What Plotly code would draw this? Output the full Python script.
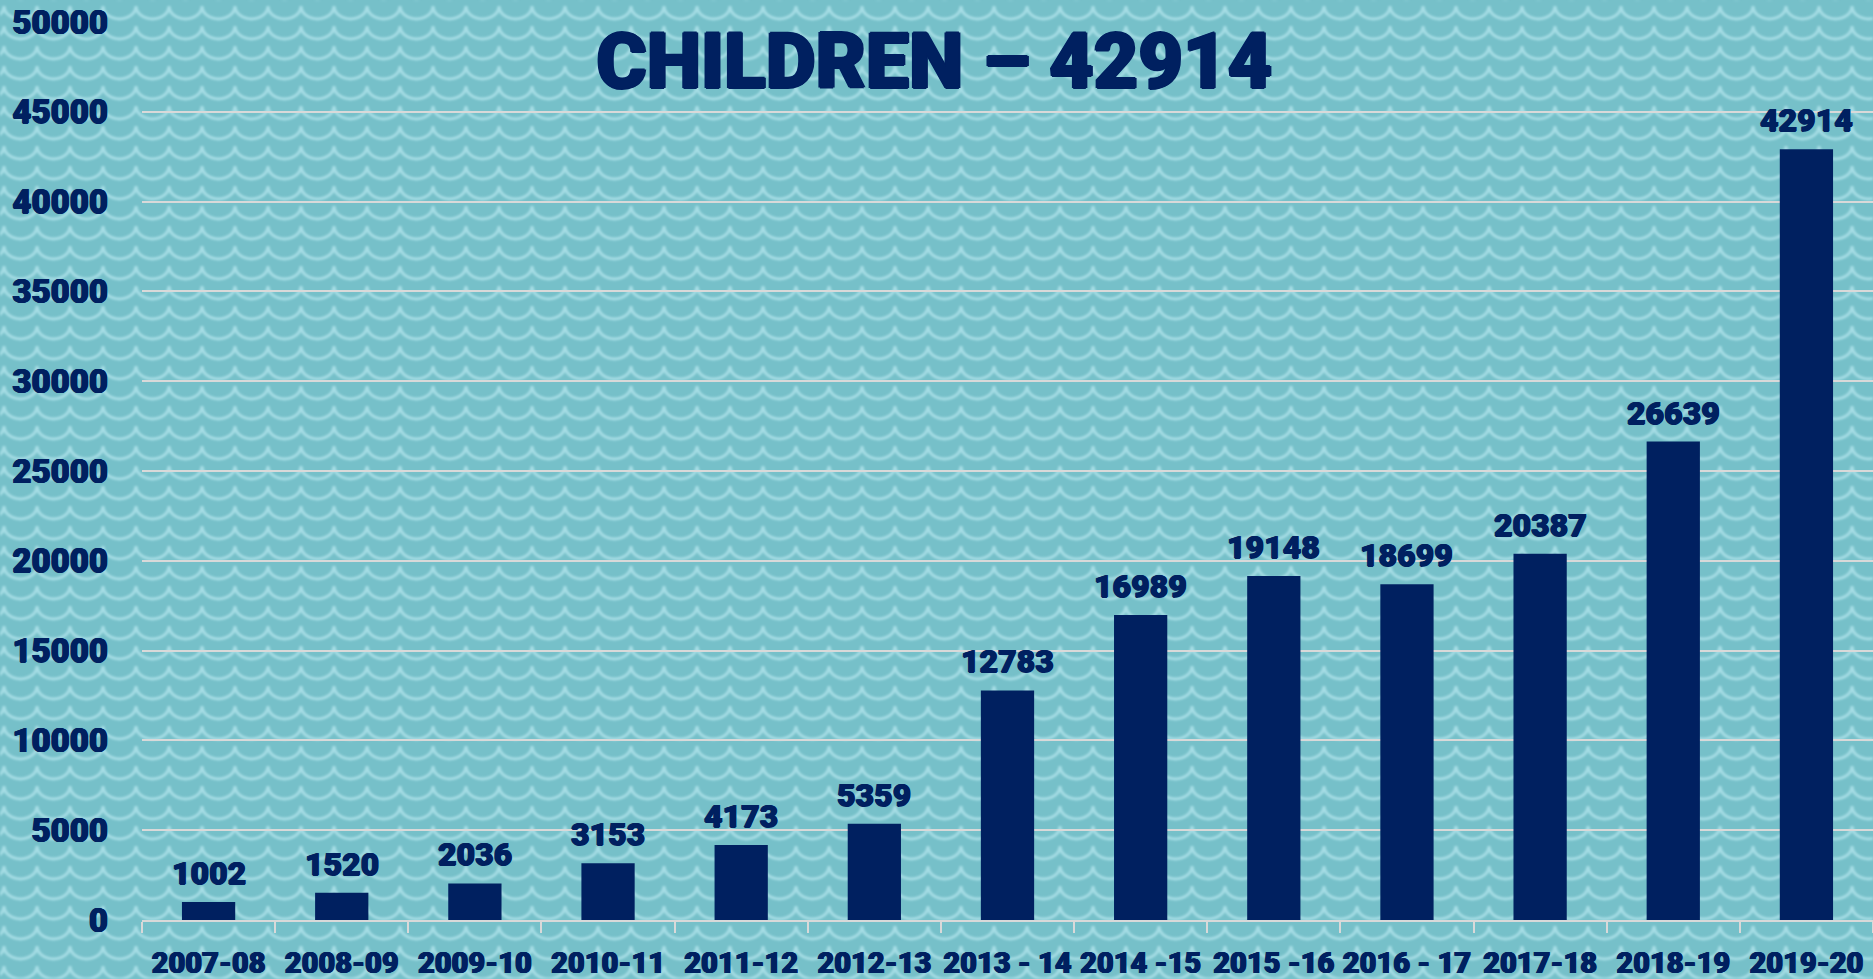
import base64
import plotly.graph_objects as go

categories = ["2007-08", "2008-09", "2009-10", "2010-11", "2011-12", "2012-13",
              "2013 - 14", "2014 -15", "2015 -16", "2016 - 17", "2017-18",
              "2018-19", "2019-20"]
children = [1002, 1520, 2036, 3153, 4173, 5359, 12783, 16989, 19148, 18699,
            20387, 26639, 42914]
y_ticks = [0, 5000, 10000, 15000, 20000, 25000, 30000, 35000, 40000, 45000, 50000]
title_text = "CHILDREN – 42914"

W, H = 1873, 979
ML, MR, MT, MB = 142, 0, 22, 59
PW, PH = W - ML - MR, H - MT - MB

NAVY = "#002060"
BG = "#76c0c9"
GRID = "#d9d9d9"
FONT = "Roboto"
THICK = "0.7px 0 0 #002060, -0.7px 0 0 #002060, 0 0.5px 0 #002060"
THICK_T = "1.4px 0 0 #002060, -1.4px 0 0 #002060, 0 1px 0 #002060, 0 -1px 0 #002060"

# scalloped background pattern as an inline SVG image
arc = "A16.5,13 0 0 0"
svg = f'''<svg xmlns="http://www.w3.org/2000/svg" width="{W}" height="{H}" viewBox="0 0 {W} {H}">
<defs>
<filter id="b"><feGaussianBlur stdDeviation="0.8"/></filter>
<pattern id="p" x="4" y="6" width="33" height="20" patternUnits="userSpaceOnUse">
<path d="M-33,0 {arc} 0,0 {arc} 33,0 {arc} 66,0" fill="none" stroke="#a6dde5" stroke-width="3"/>
<path d="M-33,20 {arc} 0,20 {arc} 33,20 {arc} 66,20" fill="none" stroke="#a6dde5" stroke-width="3"/>
</pattern>
</defs>
<rect width="{W}" height="{H}" fill="{BG}"/>
<rect width="{W}" height="{H}" fill="url(#p)" filter="url(#b)"/>
</svg>'''
src = "data:image/svg+xml;base64," + base64.b64encode(svg.encode()).decode()

fig = go.Figure()
fig.add_trace(go.Bar(
    x=categories, y=children,
    marker=dict(color=NAVY, line=dict(width=0)),
    hoverinfo="x+y",
))

for c, v in zip(categories, children):
    fig.add_annotation(
        x=c, y=v, xref="x", yref="y", text=str(v), showarrow=False,
        yanchor="bottom", yshift=8,
        font=dict(family=FONT, size=32, color=NAVY, weight=900, shadow=THICK),
    )

fig.add_layout_image(
    source=src, xref="paper", yref="paper",
    x=-ML / PW, y=1 + MT / PH, sizex=W / PW, sizey=H / PH,
    xanchor="left", yanchor="top", sizing="stretch", layer="below",
)

fig.update_layout(
    width=W, height=H,
    margin=dict(l=ML, r=MR, t=MT, b=MB, pad=0, autoexpand=False),
    paper_bgcolor=BG,
    plot_bgcolor="rgba(0,0,0,0)",
    bargap=0.6,
    showlegend=False,
    title=dict(
        text=title_text, x=0.4988, xref="container", xanchor="center",
        y=1 - 61 / H, yref="container", yanchor="middle",
        font=dict(family=FONT, size=77, color=NAVY, weight=900, shadow=THICK_T),
    ),
    xaxis=dict(
        type="category", range=[-0.5, len(categories) - 0.5],
        showgrid=False, showline=True, linecolor=GRID, linewidth=2,
        ticks="outside", tickson="boundaries", ticklen=11, tickwidth=2,
        tickcolor=GRID, ticklabelstandoff=16, tickangle=0, automargin=False,
        tickfont=dict(family=FONT, size=29, color=NAVY, weight=900, shadow=THICK),
        fixedrange=True,
    ),
    yaxis=dict(
        range=[0, 50000], tickmode="array", tickvals=y_ticks,
        ticktext=[str(t) for t in y_ticks],
        showgrid=True, gridcolor=GRID, gridwidth=2,
        zeroline=False, showline=False, ticks="",
        ticklabelstandoff=33, automargin=False,
        tickfont=dict(family=FONT, size=33, color=NAVY, weight=900, shadow=THICK),
        fixedrange=True,
    ),
)

fig.write_html(
    "out.html",
    config={"displayModeBar": False},
    post_script="document.body.style.margin='0';document.body.style.overflow='hidden';",
)
